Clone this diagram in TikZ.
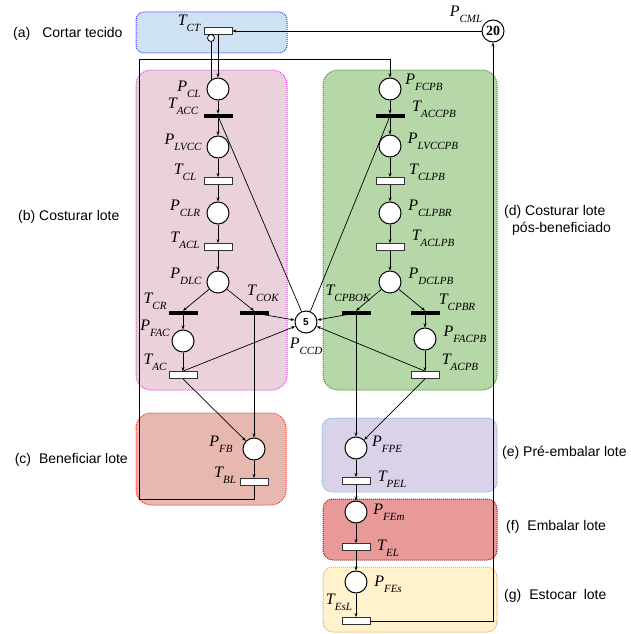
\documentclass[tikz,border=0pt]{standalone}
\usepackage{fontspec}
\setmainfont{Liberation Serif}
\newfontfamily\arialfont{Liberation Sans}
\usetikzlibrary{arrows.meta}
\definecolor{afill}{HTML}{CFE2F3}\definecolor{aline}{HTML}{3C3CFF}
\definecolor{bfill}{HTML}{EAD1DC}\definecolor{bline}{HTML}{FF33FF}
\definecolor{cfill}{HTML}{E6B8AF}\definecolor{cline}{HTML}{FF3333}
\definecolor{dfill}{HTML}{B6D7A8}\definecolor{dline}{HTML}{4E8A3A}
\definecolor{efill}{HTML}{D9D2E9}\definecolor{eline}{HTML}{8FB5E0}
\definecolor{ffill}{HTML}{EA9999}\definecolor{fline}{HTML}{8B1A1A}
\definecolor{gfill}{HTML}{FFF2CC}\definecolor{gline}{HTML}{F6A54B}
\newcommand{\lb}[2]{{\fontsize{16}{16}\selectfont\itshape #1\raisebox{-6pt}{\fontsize{11}{11}\selectfont #2}}}
\begin{document}
\begin{tikzpicture}[x=1pt,y=-1pt,
  place/.style={circle, draw, line width=1pt, fill=white, minimum size=22pt, inner sep=0pt},
  trans/.style={rectangle, draw=black!80, line width=0.8pt, fill=white, minimum width=28pt, minimum height=7pt, inner sep=0pt},
  tbar/.style={rectangle, fill=black, minimum width=29pt, minimum height=4pt, inner sep=0pt},
  arc/.style={-{Stealth[length=4pt,width=3pt]}, line width=0.7pt},
  plain/.style={line width=0.7pt},
  lbl/.style={inner sep=0pt},
  side/.style={font=\arialfont\fontsize{14}{17}\selectfont, inner sep=0pt, align=left},
  region/.style={rounded corners=15pt, dash pattern=on 1pt off 1pt, line width=1pt}]
\useasboundingbox (0,0) rectangle (631,634);
% regions
\draw[region, rounded corners=8pt, draw=aline, fill=afill] (136,12) rectangle (287,53);
\draw[region, draw=bline, fill=bfill] (136,70) rectangle (287,390);
\draw[region, draw=cline, fill=cfill] (136,413) rectangle (286,505);
\draw[region, draw=dline, fill=dfill] (323,70) rectangle (497,390);
\draw[region, rounded corners=10pt, draw=eline, fill=efill] (322,418) rectangle (497,492);
\draw[region, rounded corners=10pt, draw=fline, fill=ffill] (323,499) rectangle (497,560);
\draw[region, rounded corners=10pt, draw=gline, fill=gfill] (323,567) rectangle (497,632);
% side labels
\node[side, anchor=west] (sa) at (13,34) {(a)\hspace{12pt}Cortar tecido};
\node[side, anchor=west] (sb) at (18,217) {(b) Costurar lote};
\node[side, anchor=east] (sc) at (128,460) {(c)\hspace{8pt}Beneficiar lote};
\node[side, anchor=north west] (sd) at (504,205) {(d) Costurar lote\\\hspace*{8pt}pós-beneficiado};
\node[side, anchor=west] (se) at (502,453) {(e) Pré-embalar lote};
\node[side, anchor=west] (sf) at (506,527) {(f)\hspace{8pt}Embalar lote};
\node[side, anchor=west] (sg) at (504,596) {(g)\hspace{8pt}Estocar\hspace{7pt}lote};
% places
\node[place] (PCL) at (218,89) {};
\node[place] (PLVCC) at (218,147) {};
\node[place] (PCLR) at (218,213) {};
\node[place] (PDLC) at (218,282) {};
\node[place] (PFAC) at (183,341) {};
\node[place] (PCCD) at (306,322) {\arialfont\fontsize{10}{10}\selectfont\bfseries 5};
\node[place] (PFCPB) at (390,89) {};
\node[place] (PLVCCPB) at (390,146) {};
\node[place] (PCLPBR) at (390,213) {};
\node[place] (PDCLPB) at (390,282) {};
\node[place] (PFACPB) at (425,339) {};
\node[place] (PFB) at (254,449) {};
\node[place] (PFPE) at (356,448) {};
\node[place] (PFEm) at (356,512) {};
\node[place] (PFEs) at (356,582) {};
\node[place] (PCML) at (493,31) {\fontsize{14}{14}\selectfont\bfseries 20};
% transitions
\node[trans] (TCT) at (218,31) {};
\node[circle, draw, line width=0.8pt, fill=white, minimum size=7pt, inner sep=0pt] (inh) at (211,38) {};
\node[tbar] (TACC) at (218,116) {};
\node[trans] (TCL) at (218,181) {};
\node[trans] (TACL) at (218,247) {};
\node[tbar] (TCR) at (183,313) {};
\node[tbar] (TCOK) at (254,313) {};
\node[trans] (TAC) at (183,375) {};
\node[tbar] (TACCPB) at (390,116) {};
\node[trans] (TCLPB) at (390,181) {};
\node[trans] (TACLPB) at (390,247) {};
\node[tbar] (TCPBOK) at (356,313) {};
\node[tbar] (TCPBR) at (425,313) {};
\node[trans] (TACPB) at (425,375) {};
\node[trans] (TBL) at (254,482) {};
\node[trans] (TPEL) at (356,481) {};
\node[trans] (TEL) at (356,547) {};
\node[trans] (TEsL) at (356,621) {};
% labels
\node[lbl] (lTCT) at (189,23) {\lb{T}{CT}};
\node[lbl] (lPCL) at (189,89) {\lb{P}{CL}};
\node[lbl] (lTACC) at (183,106) {\lb{T}{ACC}};
\node[lbl] (lPLVCC) at (183,142) {\lb{P}{LVCC}};
\node[lbl] (lTCL) at (185,172) {\lb{T}{CL}};
\node[lbl] (lPCLR) at (185,208) {\lb{P}{CLR}};
\node[lbl] (lTACL) at (185,240) {\lb{T}{ACL}};
\node[lbl] (lPDLC) at (186,276) {\lb{P}{DLC}};
\node[lbl] (lTCR) at (155,301) {\lb{T}{CR}};
\node[lbl] (lTCOK) at (263,293) {\lb{T}{COK}};
\node[lbl] (lPFAC) at (155,328) {\lb{P}{FAC}};
\node[lbl] (lTAC) at (155,362) {\lb{T}{AC}};
\node[lbl] (lPCCD) at (306,346) {\lb{P}{CCD}};
\node[lbl] (lPFCPB) at (424,82) {\lb{P}{FCPB}};
\node[lbl] (lTACCPB) at (434,109) {\lb{T}{ACCPB}};
\node[lbl] (lPLVCCPB) at (433,141) {\lb{P}{LVCCPB}};
\node[lbl] (lTCLPB) at (427,172) {\lb{T}{CLPB}};
\node[lbl] (lPCLPBR) at (430,208) {\lb{P}{CLPBR}};
\node[lbl] (lTACLPB) at (433,238) {\lb{T}{ACLPB}};
\node[lbl] (lPDCLPB) at (431,276) {\lb{P}{DCLPB}};
\node[lbl] (lTCPBOK) at (348,293) {\lb{T}{CPBOK}};
\node[lbl] (lTCPBR) at (457,302) {\lb{T}{CPBR}};
\node[lbl] (lPFACPB) at (465,334) {\lb{P}{FACPB}};
\node[lbl] (lTACPB) at (460,362) {\lb{T}{ACPB}};
\node[lbl] (lPFB) at (221,444) {\lb{P}{FB}};
\node[lbl] (lTBL) at (225,475) {\lb{T}{BL}};
\node[lbl] (lPFPE) at (387,444) {\lb{P}{FPE}};
\node[lbl] (lTPEL) at (392,479) {\lb{T}{PEL}};
\node[lbl] (lPFEm) at (389,512) {\lb{P}{FEm}};
\node[lbl] (lTEL) at (388,548) {\lb{T}{EL}};
\node[lbl] (lPFEs) at (388,584) {\lb{P}{FEs}};
\node[lbl] (lTEsL) at (339,602) {\lb{T}{EsL}};
\node[lbl] (lPCML) at (466,14) {\lb{P}{CML}};
% connectors
\coordinate (bl1) at (139,499);
\coordinate (bl2) at (139,59);
\draw[arc] (PCML.west) -- (TCT.east);
\draw[arc] (TCT.south) -- (PCL.north);
\draw[plain] (inh.south) -- (inh.south |- PCL.130);
\draw[arc] (PCL) -- (TACC.north);
\draw[arc] (TACC.south) -- (PLVCC);
\draw[arc] (PLVCC) -- (TCL);
\draw[arc] (TCL) -- (PCLR);
\draw[arc] (PCLR) -- (TACL);
\draw[arc] (TACL) -- (PDLC);
\draw[arc] (PDLC) -- (TCR.north);
\draw[arc] (PDLC) -- (TCOK.north);
\draw[arc] (TCR) -- (PFAC);
\draw[arc] (PFAC) -- (TAC);
\draw[arc] (TCOK.center) -- (PCCD);
\draw[arc] (TCOK.south) -- (PFB);
\draw[arc] (TAC.north) -- (PCCD);
\draw[arc] (TAC.south) -- (PFB);
\draw[plain] (PCCD) -- (TACC.center);
\draw[plain] (PCCD) -- (TACCPB.center);
\draw[arc] (PFB) -- (TBL);
\draw[arc] (TBL.south) |- (bl1) -- (bl2) -| (PFCPB.north);
\draw[arc] (PFCPB) -- (TACCPB.north);
\draw[arc] (TACCPB.south) -- (PLVCCPB);
\draw[arc] (PLVCCPB) -- (TCLPB);
\draw[arc] (TCLPB) -- (PCLPBR);
\draw[arc] (PCLPBR) -- (TACLPB);
\draw[arc] (TACLPB) -- (PDCLPB);
\draw[arc] (PDCLPB) -- (TCPBOK.north);
\draw[arc] (PDCLPB) -- (TCPBR.north);
\draw[arc] (TCPBOK.center) -- (PCCD);
\draw[arc] (TCPBOK.south) -- (PFPE);
\draw[arc] (TCPBR) -- (PFACPB);
\draw[arc] (PFACPB) -- (TACPB);
\draw[arc] (TACPB.north) -- (PCCD);
\draw[arc] (TACPB.south) -- (PFPE);
\draw[arc] (PFPE) -- (TPEL);
\draw[arc] (TPEL) -- (PFEm);
\draw[arc] (PFEm) -- (TEL);
\draw[arc] (TEL) -- (PFEs);
\draw[arc] (PFEs) -- (TEsL);
\draw[arc] (TEsL.east) -| (PCML.south);
\end{tikzpicture}
\end{document}
